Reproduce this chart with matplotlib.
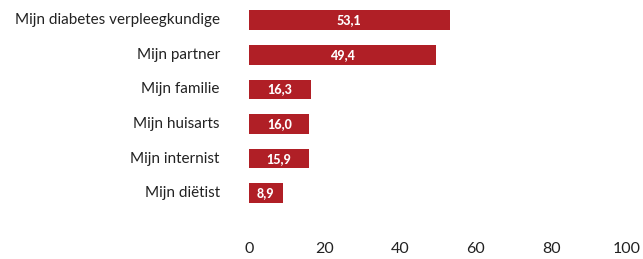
import matplotlib
matplotlib.use("Agg")
import matplotlib.pyplot as plt

categories = ["Mijn diabetes verpleegkundige", "Mijn partner", "Mijn familie",
              "Mijn huisarts", "Mijn internist", "Mijn diëtist"]
values = [53.1, 49.4, 16.3, 16.0, 15.9, 8.9]
xticks = [0, 20, 40, 60, 80, 100]

color = "#B01F26"
plt.rcParams['font.family'] = ['Lato', 'DejaVu Sans']

fig = plt.figure(figsize=(6.43, 2.59), dpi=100)
ax = fig.add_axes([249/643, 1-236/259, (627-249)/643, 233/259])
y = list(range(len(categories)))
ax.barh(y, values, height=0.57, color=color)
for yi, v in zip(y, values):
    ax.text(v/2, yi, f"{v:.1f}".replace(".", ","), ha="center", va="center",
            color="white", fontsize=9, fontweight="black")
ax.set_ylim(6.24, -0.5)
ax.set_xlim(0, 100)
ax.set_yticks(y)
ax.set_yticklabels(categories, fontsize=11, color="#222222", va="center")
for lbl in ax.get_yticklabels():
    lbl.set_y(lbl.get_position()[1])
ax.set_xticks(xticks)
ax.set_xticklabels([str(t) for t in xticks], fontsize=11.5, color="#222222")
ax.tick_params(axis="both", length=0)
ax.tick_params(axis="y", pad=21)
ax.tick_params(axis="x", pad=4)
for s in ax.spines.values():
    s.set_visible(False)
fig.savefig("out.png", dpi=100)
